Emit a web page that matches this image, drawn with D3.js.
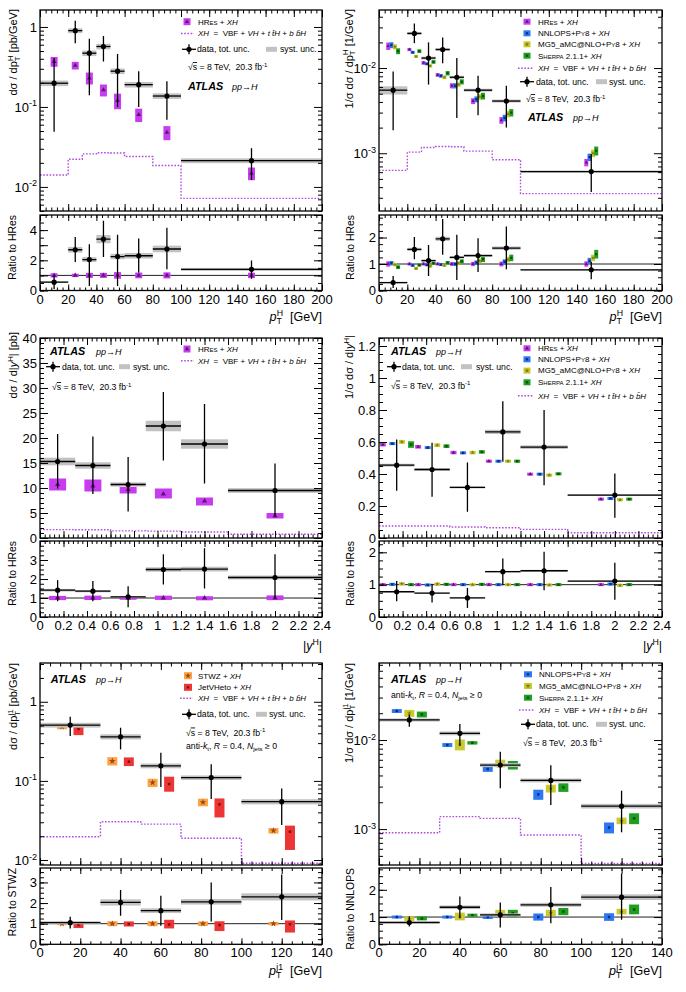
<!DOCTYPE html>
<html><head><meta charset="utf-8">
<script src="https://cdn.jsdelivr.net/npm/d3@7"></script>
<style>
html,body{margin:0;padding:0;background:#fff;}
svg text{font-family:"Liberation Sans",Arial,Helvetica,sans-serif;white-space:pre;fill:#000;}
</style></head><body>
<script>
// ================= DATA =================
// (a) dσ/dpT^H
const ptHEdges   = [0, 20, 30, 40, 50, 60, 80, 100, 200];
const ptHCenters = [10, 25, 35, 45, 55, 70, 90, 150];
const ptHTicks   = [0, 20, 40, 60, 80, 100, 120, 140, 160, 180, 200];
const aData   = [0.198, 0.90, 0.47, 0.57, 0.28, 0.19, 0.137, 0.0213];
const aDataLo = [0.049, 0.625, 0.14, 0.37, 0.10, 0.10, 0.069, 0.0122];
const aDataHi = [0.41, 1.20, 0.71, 0.77, 0.46, 0.28, 0.21, 0.0305];
const aSyst   = [0.08, 0.07, 0.08, 0.08, 0.08, 0.08, 0.08, 0.07];
const aHRes    = [0.37, 0.33, 0.23, 0.163, 0.12, 0.08, 0.048, 0.0148];
const aHResUnc = [0.14, 0.11, 0.17, 0.17, 0.22, 0.19, 0.20, 0.18];
const aXH      = [0.0141, 0.0222, 0.0259, 0.0268, 0.0266, 0.024, 0.0185, 0.0072];
const aRatio   = [0.55, 2.70, 2.05, 3.40, 2.25, 2.30, 2.75, 1.40];
const aRatioLo = [0.10, 1.89, 0.30, 2.22, 0.30, 1.20, 1.40, 0.78];
const aRatioHi = [1.00, 3.55, 3.07, 4.62, 3.70, 3.45, 4.15, 1.98];
const aYLabels = [1, 0.1, 0.01];
const aRLabels = [0, 2, 4];

// (b) 1/σ dσ/dpT^H
const bData   = [0.0055, 0.0255, 0.0131, 0.0165, 0.0078, 0.0055, 0.0041, 0.00061];
const bDataLo = [0.00186, 0.0196, 0.0064, 0.0114, 0.0026, 0.0028, 0.0020, 0.00035];
const bDataHi = [0.0091, 0.0333, 0.0200, 0.0228, 0.0131, 0.0081, 0.0062, 0.00098];
const bSyst   = [0.11, 0.04, 0.04, 0.04, 0.04, 0.04, 0.04, 0.03];
const bHRes   = [0.0181, 0.0165, 0.0115, 0.0083, 0.0062, 0.0041, 0.00244, 0.00078];
const bNNLOPS = [0.0186, 0.0153, 0.0112, 0.0081, 0.0062, 0.0043, 0.0026, 0.00090];
const bMG5    = [0.0178, 0.0137, 0.0106, 0.0078, 0.0064, 0.0046, 0.0029, 0.0010];
const bSherpa = [0.0158, 0.0158, 0.0118, 0.0087, 0.0069, 0.0047, 0.0030, 0.00107];
const bHResUnc   = [0.10, 0.04, 0.05, 0.05, 0.07, 0.08, 0.09, 0.10];
const bNNLOPSUnc = [0.08, 0.04, 0.04, 0.05, 0.07, 0.08, 0.09, 0.10];
const bMG5Unc    = [0.07, 0.04, 0.04, 0.05, 0.06, 0.08, 0.09, 0.10];
const bSherpaUnc = [0.08, 0.05, 0.05, 0.06, 0.07, 0.09, 0.10, 0.12];
const bXH = [0.00063, 0.00103, 0.00117, 0.0012, 0.00119, 0.00106, 0.00084, 0.000336];
const bRatio   = [0.30, 1.55, 1.13, 1.95, 1.25, 1.32, 1.60, 0.78];
const bRatioLo = [0.09, 1.18, 0.55, 1.35, 0.40, 0.70, 0.80, 0.42];
const bRatioHi = [0.55, 2.02, 1.72, 2.70, 2.10, 1.97, 2.42, 1.08];
const bNNLOPSRatio = [1.03, 0.95, 0.97, 0.98, 1.00, 1.05, 1.08, 1.12];
const bMG5Ratio    = [0.98, 0.83, 0.92, 0.95, 1.03, 1.12, 1.17, 1.23];
const bSherpaRatio = [0.88, 0.96, 1.03, 1.05, 1.10, 1.18, 1.23, 1.37];
const bOffsets = [-3.5, -1.2, 1.2, 3.5];
const bYLabels = [0.01, 0.001];
const bRLabels = [0, 1, 2];

// (c) dσ/d|yH|
const yEdges   = [0, 0.3, 0.6, 0.9, 1.2, 1.6, 2.4];
const yCenters = [0.15, 0.45, 0.75, 1.05, 1.4, 2.0];
const yHTicks  = [0, 0.2, 0.4, 0.6, 0.8, 1, 1.2, 1.4, 1.6, 1.8, 2, 2.2, 2.4];
const cData   = [15.3, 14.5, 10.7, 22.4, 18.8, 9.5];
const cDataLo = [9.9, 8.8, 5.3, 15.5, 10.9, 4.3];
const cDataHi = [20.8, 20.3, 16.2, 29.2, 26.8, 14.9];
const cSyst   = [0.05, 0.045, 0.04, 0.047, 0.05, 0.05];
const cHRes   = [10.7, 10.4, 9.7, 8.8, 7.4, 4.4];
const cHResLo = [9.5, 9.3, 8.9, 7.9, 6.5, 3.9];
const cHResHi = [11.9, 11.7, 10.2, 9.9, 8.1, 5.0];
const cXH     = [1.68, 1.66, 1.42, 1.38, 1.20, 0.74];
const cRatio   = [1.41, 1.36, 1.06, 2.50, 2.52, 2.08];
const cRatioLo = [0.83, 0.83, 0.51, 1.71, 1.50, 0.97];
const cRatioHi = [1.94, 1.89, 1.62, 3.30, 3.62, 3.30];
const cYLabels = [0, 5, 10, 15, 20, 25, 30, 35, 40];
const cRLabels = [0, 1, 2, 3];

// (d) 1/σ dσ/d|yH|
const dData   = [0.455, 0.428, 0.316, 0.663, 0.568, 0.268];
const dDataLo = [0.295, 0.258, 0.164, 0.476, 0.330, 0.127];
const dDataHi = [0.615, 0.595, 0.472, 0.855, 0.800, 0.403];
const dSyst   = [0.02, 0.02, 0.02, 0.02, 0.02, 0.02];
const dHRes   = [0.584, 0.570, 0.534, 0.480, 0.399, 0.243];
const dNNLOPS = [0.590, 0.565, 0.532, 0.480, 0.399, 0.247];
const dMG5    = [0.601, 0.580, 0.534, 0.480, 0.393, 0.239];
const dSherpa = [0.584, 0.574, 0.538, 0.480, 0.401, 0.243];
const dHResUnc   = [0.02, 0.02, 0.02, 0.02, 0.02, 0.02];
const dNNLOPSUnc = [0.015, 0.015, 0.015, 0.015, 0.015, 0.015];
const dMG5Unc    = [0.02, 0.02, 0.02, 0.02, 0.02, 0.025];
const dSherpaUnc = [0.035, 0.02, 0.02, 0.02, 0.02, 0.02];
const dXH = [0.075, 0.075, 0.069, 0.064, 0.054, 0.033];
const dRatio   = [0.78, 0.74, 0.59, 1.40, 1.43, 1.11];
const dRatioLo = [0.49, 0.45, 0.28, 0.98, 0.83, 0.53];
const dRatioHi = [1.11, 1.03, 0.90, 1.81, 2.02, 1.68];
const dNNLOPSRatio = [1.01, 0.99, 1.00, 1.00, 1.00, 1.02];
const dMG5Ratio    = [1.03, 1.02, 1.00, 1.00, 0.99, 0.98];
const dSherpaRatio = [1.00, 1.01, 1.01, 1.00, 1.00, 1.00];
const dOffsets = [-0.118, -0.037, 0.044, 0.122];
const dYLabels = [0, 0.2, 0.4, 0.6, 0.8, 1, 1.2];
const dRLabels = [0, 1, 2];

// (e) dσ/dpT^j1
const ptjEdges   = [0, 30, 50, 70, 100, 140];
const ptjCenters = [15, 40, 60, 85, 120];
const ptjTicks   = [0, 20, 40, 60, 80, 100, 120, 140];
const eData   = [0.507, 0.361, 0.155, 0.110, 0.0546];
const eDataLo = [0.368, 0.25, 0.084, 0.059, 0.0277];
const eDataHi = [0.646, 0.47, 0.227, 0.162, 0.080];
const eSyst   = [0.07, 0.075, 0.07, 0.065, 0.075];
const eSTWZ    = [0.483, 0.178, 0.095, 0.0537, 0.0235];
const eSTWZUnc = [0.07, 0.12, 0.12, 0.11, 0.08];
const eJVH   = [0.452, 0.175, 0.0912, 0.0505, 0.0228];
const eJVHLo = [0.379, 0.154, 0.073, 0.0345, 0.0134];
const eJVHHi = [0.532, 0.198, 0.113, 0.060, 0.0272];
const eXH = [0.0197, 0.0305, 0.0284, 0.0188, 0.0091];
const eRatio   = [1.05, 2.03, 1.63, 2.06, 2.30];
const eRatioLo = [0.77, 1.39, 0.90, 1.10, 1.18];
const eRatioHi = [1.34, 2.63, 2.35, 3.00, 3.39];
const eJVHRatio = [0.94, 0.98, 0.96, 0.94, 0.97];
const eOffsets = [-4.1, 4.1];
const eYLabels = [1, 0.1, 0.01];
const eRLabels = [0, 1, 2, 3];

// (f) 1/σ dσ/dpT^j1
const fData   = [0.0168, 0.0119, 0.00524, 0.00352, 0.00181];
const fDataLo = [0.0141, 0.0086, 0.00287, 0.00186, 0.00092];
const fDataHi = [0.0194, 0.0151, 0.0074, 0.0052, 0.0027];
const fSyst   = [0.04, 0.05, 0.05, 0.05, 0.06];
const fNNLOPS    = [0.0212, 0.0088, 0.00472, 0.00245, 0.00104];
const fNNLOPSUnc = [0.05, 0.05, 0.07, 0.13, 0.14];
const fMG5       = [0.0200, 0.0089, 0.00547, 0.00286, 0.00124];
const fMG5Unc    = [0.09, 0.14, 0.10, 0.10, 0.085];
const fSherpa    = [0.0194, 0.0093, 0.00524, 0.00294, 0.00132];
const fSherpaUnc = [0.076, 0.044, 0.11, 0.11, 0.14];
const fXH = [0.00091, 0.00138, 0.00132, 0.000857, 0.00041];
const fRatio   = [0.80, 1.36, 1.08, 1.45, 1.73];
const fRatioLo = [0.65, 0.96, 0.62, 0.77, 0.90];
const fRatioHi = [1.02, 1.75, 1.53, 2.10, 2.59];
const fMG5Ratio    = [0.94, 1.02, 1.15, 1.15, 1.20];
const fSherpaRatio = [0.95, 1.07, 1.14, 1.20, 1.28];
const fOffsets = [-6.2, 0, 6.2];
const fYLabels = [0.01, 0.001];
const fRLabels = [0, 1, 2];

// ================= STYLE / LAYOUT =================
const C = {
  hres: '#c83cf0', hresD: '#5c1577',
  nnlops: '#2b78f2', nnlopsD: '#0b2a80',
  mg5: '#c9c930', mg5D: '#7d7d0a',
  sherpa: '#1f9e1f', sherpaD: '#0a4f0a',
  stwz: '#ffa244', stwzD: '#9a4a10',
  jvh: '#ee3535', jvhD: '#7a1010',
  xh: '#b04de0', syst: '#c2c2c2'
};
const W = 686, H = 992;
const svg = d3.select('body').append('svg').attr('width', W).attr('height', H);
svg.append('rect').attr('width', W).attr('height', H).attr('fill', '#fff');
const defs = svg.append('defs');
const COL = { L: [40, 322], R: [379, 662] };
const ROW = [
  { mt: 10, mb: 211, rt: 215, rb: 290.5 },
  { mt: 338, mb: 538, rt: 541, rb: 617 },
  { mt: 663, mb: 865, rt: 868, rb: 944.3 }
];
const TICKF = 13;
const YTF = 11;
let clipN = 0;

function makePanel(col, row, xDom, yDom, yLog, rDom) {
  const [x0, x1] = COL[col]; const R = ROW[row];
  const x = d3.scaleLinear().domain(xDom).range([x0, x1]);
  const y = (yLog ? d3.scaleLog() : d3.scaleLinear()).domain(yDom).range([R.mb, R.mt]);
  const r = d3.scaleLinear().domain(rDom).range([R.rb, R.rt]);
  const idM = 'clip' + (clipN++), idR = 'clip' + (clipN++);
  defs.append('clipPath').attr('id', idM).append('rect').attr('x', x0).attr('y', R.mt).attr('width', x1 - x0).attr('height', R.mb - R.mt);
  defs.append('clipPath').attr('id', idR).append('rect').attr('x', x0).attr('y', R.rt).attr('width', x1 - x0).attr('height', R.rb - R.rt);
  const gM = svg.append('g').attr('clip-path', `url(#${idM})`);
  const gR = svg.append('g').attr('clip-path', `url(#${idR})`);
  const gA = svg.append('g');
  return { x, y, r, x0, x1, R, gM, gR, gA, xDom, yDom, rDom, yLog };
}

function rich(g, x, y, segs, size, o = {}) {
  const t = g.append('text').attr('x', x).attr('y', y).attr('font-size', size)
    .attr('text-anchor', o.anchor || 'start');
  if (o.rotate) t.attr('transform', `rotate(-90,${x},${y})`);
  let shift = 0;
  segs.forEach(s => {
    if (typeof s === 'string') s = { t: s };
    const sp = t.append('tspan').text(s.t);
    let target = 0, fs = size;
    if (s.sup) { target = -0.4 * size; fs = size * 0.7; }
    else if (s.sub) { target = 0.25 * size; fs = size * 0.7; }
    if (s.s) fs = size * s.s;
    sp.attr('font-size', fs);
    const dy = target - shift; shift = target;
    if (dy) sp.attr('dy', dy.toFixed(2));
    if (s.dx) sp.attr('dx', s.dx);
    if (s.i) sp.attr('font-style', 'italic');
    if (s.b) sp.attr('font-weight', 'bold');
    if (s.ol) sp.style('text-decoration', 'overline');
  });
  return t;
}

function linMinor(dom, step) {
  const out = [];
  for (let v = dom[0]; v <= dom[1] + 1e-9; v += step) out.push(+v.toFixed(6));
  return out;
}
function logMajor(dom) {
  const out = [];
  for (let e = Math.floor(Math.log10(dom[0])); e <= Math.ceil(Math.log10(dom[1])); e++) {
    const v = Math.pow(10, e); if (v >= dom[0] && v <= dom[1]) out.push(v);
  }
  return out;
}
function logMinor(dom) {
  const out = [];
  for (let e = Math.floor(Math.log10(dom[0])); e <= Math.ceil(Math.log10(dom[1])); e++)
    for (let k = 2; k < 10; k++) { const v = k * Math.pow(10, e); if (v >= dom[0] && v <= dom[1]) out.push(v); }
  return out;
}

function drawXTicks(P, top, bot, major, minor, Lmaj, Lmin) {
  [[d3.axisBottom, bot], [d3.axisTop, top]].forEach(([fn, yy]) => {
    [[major, Lmaj], [minor, Lmin]].forEach(([vals, L]) => {
      P.gA.append('g').attr('transform', `translate(0,${yy})`)
        .call(fn(P.x).tickValues(vals).tickSize(-L).tickFormat(''))
        .call(s => { s.select('.domain').remove(); s.selectAll('line').attr('stroke', '#000').attr('stroke-width', 1); });
    });
  });
}
function drawYTicks(P, scale, major, minor, Lmaj, Lmin) {
  [[d3.axisLeft, P.x0], [d3.axisRight, P.x1]].forEach(([fn, xx]) => {
    [[major, Lmaj], [minor, Lmin]].forEach(([vals, L]) => {
      P.gA.append('g').attr('transform', `translate(${xx},0)`)
        .call(fn(scale).tickValues(vals).tickSize(-L).tickFormat(''))
        .call(s => { s.select('.domain').remove(); s.selectAll('line').attr('stroke', '#000').attr('stroke-width', 1); });
    });
  });
}
function frames(P) {
  const { x0, x1, R } = P;
  [[R.mt, R.mb], [R.rt, R.rb]].forEach(([a, b]) => {
    P.gA.append('rect').attr('x', x0).attr('y', a).attr('width', x1 - x0).attr('height', b - a)
      .attr('fill', 'none').attr('stroke', '#000').attr('stroke-width', 1.3);
  });
}
function fmtNum(v) { return String(+v.toFixed(2)); }
function xLabels(P, vals) {
  vals.forEach(v => P.gA.append('text').attr('x', P.x(v)).attr('y', P.R.rb + 13)
    .attr('text-anchor', 'middle').attr('font-size', TICKF).text(fmtNum(v)));
}
function yLabels(P, scale, vals) {
  vals.forEach(v => P.gA.append('text').attr('x', P.x0 - 3).attr('y', scale(v) + 4.7)
    .attr('text-anchor', 'end').attr('font-size', TICKF).text(fmtNum(v)));
}
function yLogLabels(P, vals) {
  vals.forEach(v => {
    const e = Math.round(Math.log10(v));
    if (e === 0) P.gA.append('text').attr('x', P.x0 - 3).attr('y', P.y(v) + 4.7).attr('text-anchor', 'end').attr('font-size', TICKF).text('1');
    else rich(P.gA, P.x0 - 3, P.y(v) + 4.7, ['10', { t: '-' + (-e), sup: 1 }], TICKF, { anchor: 'end' });
  });
}

function axes(P, o) {
  frames(P);
  const R = P.R;
  drawXTicks(P, R.mt, R.mb, o.xMajor, linMinor(P.xDom, o.xMinor), 7, 3.5);
  drawXTicks(P, R.rt, R.rb, o.xMajor, linMinor(P.xDom, o.xMinor), 6, 3);
  if (P.yLog) drawYTicks(P, P.y, logMajor(P.yDom), logMinor(P.yDom), 8, 4);
  else drawYTicks(P, P.y, o.yMajor, linMinor(P.yDom, o.yMinor), 8, 4);
  drawYTicks(P, P.r, o.rMajor, linMinor(P.rDom, o.rMinor), 8, 4);
  xLabels(P, o.xMajor);
  if (P.yLog) yLogLabels(P, o.yLabels); else yLabels(P, P.y, o.yLabels);
  yLabels(P, P.r, o.rLabels);
}

function drawXH(g, x, y, edges, vals) {
  const pts = vals.map((v, i) => [edges[i], v]);
  pts.push([edges[edges.length - 1], vals[vals.length - 1]]);
  g.append('path').attr('d', d3.line().x(d => x(d[0])).y(d => y(d[1])).curve(d3.curveStepAfter)(pts))
    .attr('fill', 'none').attr('stroke', C.xh).attr('stroke-width', 1.4).attr('stroke-dasharray', '1.6,1.6');
}
function drawData(g, x, y, edges, centers, v, lo, hi, syst) {
  v.forEach((val, i) => {
    const ya = y(val * (1 + syst[i])), yb = y(val * (1 - syst[i]));
    g.append('rect').attr('x', x(edges[i])).attr('width', x(edges[i + 1]) - x(edges[i]))
      .attr('y', ya).attr('height', Math.max(yb - ya, 1)).attr('fill', C.syst);
  });
  v.forEach((val, i) => {
    g.append('line').attr('x1', x(edges[i])).attr('x2', x(edges[i + 1])).attr('y1', y(val)).attr('y2', y(val))
      .attr('stroke', '#000').attr('stroke-width', 1.3);
    g.append('line').attr('x1', x(centers[i])).attr('x2', x(centers[i])).attr('y1', y(lo[i])).attr('y2', y(hi[i]))
      .attr('stroke', '#000').attr('stroke-width', 1.3);
    g.append('circle').attr('cx', x(centers[i])).attr('cy', y(val)).attr('r', 2.6).attr('fill', '#000');
  });
}
function drawPred(g, x, y, xs, v, lo, hi, w, col, sym, symCol, symSize) {
  v.forEach((val, i) => {
    const yt = y(hi[i]), yb = y(lo[i]);
    const h = Math.max(yb - yt, 3), yc = (yt + yb) / 2;
    g.append('rect').attr('x', x(xs[i]) - w / 2).attr('y', yc - h / 2).attr('width', w).attr('height', h).attr('fill', col);
    g.append('path').attr('d', d3.symbol().type(sym).size(symSize)())
      .attr('transform', `translate(${x(xs[i])},${y(val)})`).attr('fill', symCol);
  });
}
const relLo = (v, u) => v.map((a, i) => a * (1 - u[i]));
const relHi = (v, u) => v.map((a, i) => a * (1 + u[i]));
const shiftX = (c, d) => c.map(a => a + d);
function unitLine(P) {
  P.gR.append('line').attr('x1', P.x0).attr('x2', P.x1).attr('y1', P.r(1)).attr('y2', P.r(1))
    .attr('stroke', '#222').attr('stroke-width', 1);
}

// ---- legend helpers ----
function legBox(cx, cy, w, h, col, sym, symCol, symSize) {
  svg.append('rect').attr('x', cx - w / 2).attr('y', cy - h / 2).attr('width', w).attr('height', h).attr('fill', col);
  svg.append('path').attr('d', d3.symbol().type(sym).size(symSize)()).attr('transform', `translate(${cx},${cy})`).attr('fill', symCol);
}
function legData(cx, cy) {
  svg.append('line').attr('x1', cx - 7).attr('x2', cx + 7).attr('y1', cy).attr('y2', cy).attr('stroke', '#000').attr('stroke-width', 1.3);
  svg.append('line').attr('x1', cx).attr('x2', cx).attr('y1', cy - 5).attr('y2', cy + 5).attr('stroke', '#000').attr('stroke-width', 1.3);
  svg.append('circle').attr('cx', cx).attr('cy', cy).attr('r', 2.6).attr('fill', '#000');
}
function legSyst(x, cy) { svg.append('rect').attr('x', x).attr('y', cy - 2.5).attr('width', 11).attr('height', 5).attr('fill', C.syst); }
function legXH(xa, xb, cy) {
  svg.append('line').attr('x1', xa).attr('x2', xb).attr('y1', cy).attr('y2', cy)
    .attr('stroke', C.xh).attr('stroke-width', 1.4).attr('stroke-dasharray', '1.6,1.6');
}
const LF = 8, DF = 8.7;
const T_HRES = [{ t: 'HR' }, { t: 'ES', s: 0.75 }, ' + ', { t: 'XH', i: 1 }];
const T_NNLOPS = ['NNLOPS+P', { t: 'Y', s: 0.75 }, '8 + ', { t: 'XH', i: 1 }];
const T_MG5 = ['MG5_aMC@NLO+P', { t: 'Y', s: 0.75 }, '8 + ', { t: 'XH', i: 1 }];
const T_SHERPA = ['S', { t: 'HERPA', s: 0.75 }, ' 2.1.1+ ', { t: 'XH', i: 1 }];
const T_STWZ = ['STWZ + ', { t: 'XH', i: 1 }];
const T_JVH = ['JetVHeto + ', { t: 'XH', i: 1 }];
const T_XH = [{ t: 'XH', i: 1 }, '  =  VBF + ', { t: 'VH', i: 1 }, ' + ', { t: 't t\u0304H', i: 1 }, ' + ', { t: 'b b\u0304H', i: 1 }];
const T_SQS = ['\u221A', { t: 's', ol: 1 }, ' = 8 TeV,  20.3 fb', { t: '-1', sup: 1 }];
const T_AKT = ['anti-', { t: 'k', i: 1 }, { t: 't', sub: 1 }, ', ', { t: 'R', i: 1 }, ' = 0.4, ', { t: 'N', i: 1 }, { t: 'jets', sub: 1 }, ' \u2265 0'];
function atlas(x, y, x2) {
  rich(svg, x, y, [{ t: 'ATLAS', b: 1, i: 1 }], 10.8);
  rich(svg, x2, y, [{ t: 'pp\u2192H', i: 1 }], 9);
}
function dataLeg(mx, cy, tx, sx, stx) {
  legData(mx, cy);
  rich(svg, tx, cy + 3, ['data, tot. unc.'], DF);
  legSyst(sx, cy);
  rich(svg, stx, cy + 3, ['syst. unc.'], DF);
}
const ones = n => new Array(n).fill(1);

// ================= PANEL (a) =================
{
  const P = makePanel('L', 0, [0, 200], [0.005, 1.63], true, [0, 5]);
  drawXH(P.gM, P.x, P.y, ptHEdges, aXH);
  drawPred(P.gM, P.x, P.y, ptHCenters, aHRes, relLo(aHRes, aHResUnc), relHi(aHRes, aHResUnc), 7, C.hres, d3.symbolTriangle, C.hresD, 10);
  drawData(P.gM, P.x, P.y, ptHEdges, ptHCenters, aData, aDataLo, aDataHi, aSyst);
  unitLine(P);
  const o = ones(aHRes.length);
  drawPred(P.gR, P.x, P.r, ptHCenters, o, relLo(o, aHResUnc), relHi(o, aHResUnc), 7, C.hres, d3.symbolTriangle, C.hresD, 10);
  drawData(P.gR, P.x, P.r, ptHEdges, ptHCenters, aRatio, aRatioLo, aRatioHi, aSyst);
  axes(P, { xMajor: ptHTicks, xMinor: 4, rMajor: [0, 1, 2, 3, 4, 5], rMinor: 0.5, yLabels: aYLabels, rLabels: aRLabels });
  rich(svg, 17, 9, ['d\u03C3 / dp', { t: 'T', sub: 1 }, { t: 'H', sup: 1, dx: -4.5 }, ' [pb/GeV]'], YTF, { anchor: 'end', rotate: true });
  rich(svg, 16, 215, ['Ratio to HRes'], 10.4, { anchor: 'end', rotate: true });
  rich(svg, 322, 321, [{ t: 'p', i: 1 }, { t: 'T', sub: 1 }, { t: 'H', sup: 1, dx: -5 }, '  [GeV]'], 12.5, { anchor: 'end' });
  legBox(187, 21.7, 7, 7, C.hres, d3.symbolTriangle, C.hresD, 8);
  rich(svg, 198, 24.5, T_HRES, LF);
  legXH(181, 194, 33.5);
  rich(svg, 198, 36.3, T_XH, LF);
  dataLeg(189, 49.3, 197, 266, 280);
  rich(svg, 188, 70, T_SQS, DF);
  atlas(188, 90, 232);
}

// ================= PANEL (b) =================
{
  const P = makePanel('R', 0, [0, 200], [2.1e-4, 4.8e-2], true, [0, 2.85]);
  drawXH(P.gM, P.x, P.y, ptHEdges, bXH);
  const models = [
    [bHRes, bHResUnc, C.hres, d3.symbolTriangle, C.hresD, ones(8)],
    [bNNLOPS, bNNLOPSUnc, C.nnlops, d3.symbolSquare, C.nnlopsD, bNNLOPSRatio],
    [bMG5, bMG5Unc, C.mg5, d3.symbolStar, C.mg5D, bMG5Ratio],
    [bSherpa, bSherpaUnc, C.sherpa, d3.symbolSquare, C.sherpaD, bSherpaRatio]
  ];
  models.forEach(([v, u, col, sym, sc, rat], k) => {
    const xs = shiftX(ptHCenters, bOffsets[k]);
    drawPred(P.gM, P.x, P.y, xs, v, relLo(v, u), relHi(v, u), 4, col, sym, sc, 5);
  });
  drawData(P.gM, P.x, P.y, ptHEdges, ptHCenters, bData, bDataLo, bDataHi, bSyst);
  unitLine(P);
  models.forEach(([v, u, col, sym, sc, rat], k) => {
    const xs = shiftX(ptHCenters, bOffsets[k]);
    drawPred(P.gR, P.x, P.r, xs, rat, relLo(rat, u), relHi(rat, u), 4, col, sym, sc, 5);
  });
  drawData(P.gR, P.x, P.r, ptHEdges, ptHCenters, bRatio, bRatioLo, bRatioHi, bSyst);
  axes(P, { xMajor: ptHTicks, xMinor: 4, rMajor: [0, 1, 2], rMinor: 0.25, yLabels: bYLabels, rLabels: bRLabels });
  rich(svg, 352.5, 9, ['1/\u03C3 d\u03C3 / dp', { t: 'T', sub: 1 }, { t: 'H', sup: 1, dx: -4.5 }, ' [1/GeV]'], YTF, { anchor: 'end', rotate: true });
  rich(svg, 354, 215, ['Ratio to HRes'], 10.4, { anchor: 'end', rotate: true });
  rich(svg, 662, 321, [{ t: 'p', i: 1 }, { t: 'T', sub: 1 }, { t: 'H', sup: 1, dx: -5 }, '  [GeV]'], 12.5, { anchor: 'end' });
  legBox(527, 21.7, 7, 6, C.hres, d3.symbolTriangle, C.hresD, 7);
  rich(svg, 538, 24.5, T_HRES, LF);
  legBox(527, 33.3, 7, 6, C.nnlops, d3.symbolSquare, C.nnlopsD, 5);
  rich(svg, 538, 36.1, T_NNLOPS, LF);
  legBox(527, 44.3, 7, 6, C.mg5, d3.symbolStar, C.mg5D, 8);
  rich(svg, 538, 47.1, T_MG5, LF);
  legBox(527, 55.7, 7, 6, C.sherpa, d3.symbolSquare, C.sherpaD, 5);
  rich(svg, 538, 58.5, T_SHERPA, LF);
  legXH(518, 534, 68.3);
  rich(svg, 538, 71.1, T_XH, LF);
  dataLeg(527, 81.7, 536, 596, 609);
  rich(svg, 526, 102, T_SQS, DF);
  atlas(528, 121, 573);
}

// ================= PANEL (c) =================
{
  const P = makePanel('L', 1, [0, 2.4], [0, 40], false, [0, 4]);
  drawXH(P.gM, P.x, P.y, yEdges, cXH);
  drawPred(P.gM, P.x, P.y, yCenters, cHRes, cHResLo, cHResHi, 17, C.hres, d3.symbolTriangle, C.hresD, 12);
  drawData(P.gM, P.x, P.y, yEdges, yCenters, cData, cDataLo, cDataHi, cSyst);
  unitLine(P);
  const o = ones(6);
  drawPred(P.gR, P.x, P.r, yCenters, o, cHResLo.map((l, i) => l / cHRes[i]), cHResHi.map((h, i) => h / cHRes[i]), 17, C.hres, d3.symbolTriangle, C.hresD, 12);
  drawData(P.gR, P.x, P.r, yEdges, yCenters, cRatio, cRatioLo, cRatioHi, cSyst);
  axes(P, { xMajor: yHTicks, xMinor: 0.04, yMajor: cYLabels, yMinor: 1, rMajor: [0, 1, 2, 3, 4], rMinor: 0.25, yLabels: cYLabels, rLabels: cRLabels });
  rich(svg, 17, 332, ['d\u03C3 / d|', { t: 'y', i: 1 }, { t: 'H', sup: 1 }, '| [pb]'], YTF, { anchor: 'end', rotate: true });
  rich(svg, 16, 541, ['Ratio to HRes'], 10.4, { anchor: 'end', rotate: true });
  rich(svg, 322, 650, ['|', { t: 'y', i: 1 }, { t: 'H', sup: 1 }, '|'], 12.5, { anchor: 'end' });
  atlas(50, 355, 96);
  dataLeg(53, 366.7, 62, 119, 133);
  rich(svg, 52, 390, T_SQS, DF);
  legBox(187, 349, 7, 7, C.hres, d3.symbolTriangle, C.hresD, 8);
  rich(svg, 198, 352, T_HRES, LF);
  legXH(181, 194, 360.7);
  rich(svg, 198, 363.5, T_XH, LF);
}

// ================= PANEL (d) =================
{
  const P = makePanel('R', 1, [0, 2.4], [0, 1.25], false, [0, 2.35]);
  drawXH(P.gM, P.x, P.y, yEdges, dXH);
  const models = [
    [dHRes, dHResUnc, C.hres, d3.symbolTriangle, C.hresD, ones(6)],
    [dNNLOPS, dNNLOPSUnc, C.nnlops, d3.symbolSquare, C.nnlopsD, dNNLOPSRatio],
    [dMG5, dMG5Unc, C.mg5, d3.symbolStar, C.mg5D, dMG5Ratio],
    [dSherpa, dSherpaUnc, C.sherpa, d3.symbolSquare, C.sherpaD, dSherpaRatio]
  ];
  models.forEach(([v, u, col, sym, sc, rat], k) => {
    drawPred(P.gM, P.x, P.y, shiftX(yCenters, dOffsets[k]), v, relLo(v, u), relHi(v, u), 6, col, sym, sc, 6);
  });
  drawData(P.gM, P.x, P.y, yEdges, yCenters, dData, dDataLo, dDataHi, dSyst);
  unitLine(P);
  models.forEach(([v, u, col, sym, sc, rat], k) => {
    drawPred(P.gR, P.x, P.r, shiftX(yCenters, dOffsets[k]), rat, relLo(rat, u), relHi(rat, u), 6, col, sym, sc, 6);
  });
  drawData(P.gR, P.x, P.r, yEdges, yCenters, dRatio, dRatioLo, dRatioHi, dSyst);
  axes(P, { xMajor: yHTicks, xMinor: 0.04, yMajor: dYLabels, yMinor: 0.05, rMajor: [0, 1, 2], rMinor: 0.25, yLabels: dYLabels, rLabels: dRLabels });
  rich(svg, 353, 335, ['1/\u03C3 d\u03C3 / d|', { t: 'y', i: 1 }, { t: 'H', sup: 1 }, '|'], YTF, { anchor: 'end', rotate: true });
  rich(svg, 354, 541, ['Ratio to HRes'], 10.4, { anchor: 'end', rotate: true });
  rich(svg, 662, 650, ['|', { t: 'y', i: 1 }, { t: 'H', sup: 1 }, '|'], 12.5, { anchor: 'end' });
  atlas(391, 355, 436);
  dataLeg(394, 366.7, 402, 461, 476);
  rich(svg, 391, 388.5, T_SQS, DF);
  legBox(527, 348.3, 7, 6, C.hres, d3.symbolTriangle, C.hresD, 7);
  rich(svg, 538, 351.1, T_HRES, LF);
  legBox(527, 359.3, 7, 6, C.nnlops, d3.symbolSquare, C.nnlopsD, 5);
  rich(svg, 538, 362.1, T_NNLOPS, LF);
  legBox(527, 370.6, 7, 6, C.mg5, d3.symbolStar, C.mg5D, 8);
  rich(svg, 538, 373.4, T_MG5, LF);
  legBox(527, 382.3, 7, 6, C.sherpa, d3.symbolSquare, C.sherpaD, 5);
  rich(svg, 538, 385.1, T_SHERPA, LF);
  legXH(518, 534, 395.7);
  rich(svg, 538, 398.5, T_XH, LF);
}

// ================= PANEL (e) =================
{
  const P = makePanel('L', 2, [0, 140], [0.00865, 3.09], true, [0, 3.7]);
  drawXH(P.gM, P.x, P.y, ptjEdges, eXH);
  const xsS = shiftX(ptjCenters, eOffsets[0]), xsJ = shiftX(ptjCenters, eOffsets[1]);
  drawPred(P.gM, P.x, P.y, xsS, eSTWZ, relLo(eSTWZ, eSTWZUnc), relHi(eSTWZ, eSTWZUnc), 10, C.stwz, d3.symbolStar, C.stwzD, 14);
  drawPred(P.gM, P.x, P.y, xsJ, eJVH, eJVHLo, eJVHHi, 10, C.jvh, d3.symbolSquare, C.jvhD, 6);
  drawData(P.gM, P.x, P.y, ptjEdges, ptjCenters, eData, eDataLo, eDataHi, eSyst);
  unitLine(P);
  const o = ones(5);
  drawPred(P.gR, P.x, P.r, xsS, o, relLo(o, eSTWZUnc), relHi(o, eSTWZUnc), 10, C.stwz, d3.symbolStar, C.stwzD, 14);
  drawPred(P.gR, P.x, P.r, xsJ, eJVHRatio, eJVHLo.map((l, i) => eJVHRatio[i] * l / eJVH[i]), eJVHHi.map((h, i) => eJVHRatio[i] * h / eJVH[i]), 10, C.jvh, d3.symbolSquare, C.jvhD, 6);
  drawData(P.gR, P.x, P.r, ptjEdges, ptjCenters, eRatio, eRatioLo, eRatioHi, eSyst);
  axes(P, { xMajor: ptjTicks, xMinor: 5, rMajor: [0, 1, 2, 3], rMinor: 0.25, yLabels: eYLabels, rLabels: eRLabels });
  rich(svg, 17, 663, ['d\u03C3 / dp', { t: 'T', sub: 1 }, { t: 'j1', sup: 1, dx: -4.5 }, ' [pb/GeV]'], YTF, { anchor: 'end', rotate: true });
  rich(svg, 16, 868, ['Ratio to STWZ'], 10.4, { anchor: 'end', rotate: true });
  rich(svg, 322, 975, [{ t: 'p', i: 1 }, { t: 'T', sub: 1 }, { t: 'j1', sup: 1, dx: -5 }, '  [GeV]'], 12.5, { anchor: 'end' });
  atlas(50.7, 683, 96);
  legBox(188, 675.7, 8, 7, C.stwz, d3.symbolStar, C.stwzD, 12);
  rich(svg, 198, 678.5, T_STWZ, LF);
  legBox(188, 687.3, 8, 7, C.jvh, d3.symbolSquare, C.jvhD, 5);
  rich(svg, 198, 690.1, T_JVH, LF);
  legXH(180, 193, 698.3);
  rich(svg, 198, 701.1, T_XH, LF);
  dataLeg(189, 714.3, 197, 256, 269);
  rich(svg, 186, 735.5, T_SQS, DF);
  rich(svg, 186, 749, T_AKT, DF);
}

// ================= PANEL (f) =================
{
  const P = makePanel('R', 2, [0, 140], [3.95e-4, 0.0733], true, [0, 2.8]);
  drawXH(P.gM, P.x, P.y, ptjEdges, fXH);
  const models = [
    [fNNLOPS, fNNLOPSUnc, C.nnlops, d3.symbolSquare, C.nnlopsD, ones(5)],
    [fMG5, fMG5Unc, C.mg5, d3.symbolStar, C.mg5D, fMG5Ratio],
    [fSherpa, fSherpaUnc, C.sherpa, d3.symbolSquare, C.sherpaD, fSherpaRatio]
  ];
  models.forEach(([v, u, col, sym, sc, rat], k) => {
    drawPred(P.gM, P.x, P.y, shiftX(ptjCenters, fOffsets[k]), v, relLo(v, u), relHi(v, u), 10, col, sym, sc, 6);
  });
  drawData(P.gM, P.x, P.y, ptjEdges, ptjCenters, fData, fDataLo, fDataHi, fSyst);
  unitLine(P);
  models.forEach(([v, u, col, sym, sc, rat], k) => {
    drawPred(P.gR, P.x, P.r, shiftX(ptjCenters, fOffsets[k]), rat, relLo(rat, u), relHi(rat, u), 10, col, sym, sc, 6);
  });
  drawData(P.gR, P.x, P.r, ptjEdges, ptjCenters, fRatio, fRatioLo, fRatioHi, fSyst);
  axes(P, { xMajor: ptjTicks, xMinor: 5, rMajor: [0, 1, 2], rMinor: 0.25, yLabels: fYLabels, rLabels: fRLabels });
  rich(svg, 352.5, 663, ['1/\u03C3 d\u03C3 / dp', { t: 'T', sub: 1 }, { t: 'j1', sup: 1, dx: -4.5 }, ' [1/GeV]'], YTF, { anchor: 'end', rotate: true });
  rich(svg, 354, 868, ['Ratio to NNLOPS'], 10.4, { anchor: 'end', rotate: true });
  rich(svg, 662, 975, [{ t: 'p', i: 1 }, { t: 'T', sub: 1 }, { t: 'j1', sup: 1, dx: -5 }, '  [GeV]'], 12.5, { anchor: 'end' });
  atlas(391, 683, 436);
  rich(svg, 391, 697.5, T_AKT, DF);
  legBox(528, 674.3, 8, 6, C.nnlops, d3.symbolSquare, C.nnlopsD, 5);
  rich(svg, 539, 677.1, T_NNLOPS, LF);
  legBox(528, 686, 8, 6, C.mg5, d3.symbolStar, C.mg5D, 8);
  rich(svg, 539, 688.8, T_MG5, LF);
  legBox(528, 697.7, 8, 6, C.sherpa, d3.symbolSquare, C.sherpaD, 5);
  rich(svg, 539, 700.5, T_SHERPA, LF);
  legXH(519, 535, 710);
  rich(svg, 539, 712.8, T_XH, LF);
  dataLeg(528, 724.3, 536, 596, 609);
  rich(svg, 523, 745.5, T_SQS, DF);
}
</script></body></html>
